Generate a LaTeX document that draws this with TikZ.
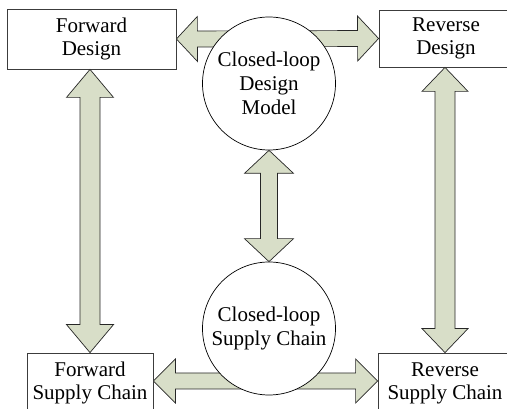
\documentclass[tikz,border=0pt]{standalone}
\usepackage{fontspec}
\setmainfont{Liberation Serif}
\usetikzlibrary{calc,backgrounds}
\definecolor{arrowfill}{RGB}{216,222,200}
\definecolor{boxline}{RGB}{60,60,60}
% #1 start, #2 end, #3 shaft half width, #4 head half width, #5 head length
\newcommand{\fatdarrow}[5]{%
  \path (#1) coordinate (fA) (#2) coordinate (fB);
  \path ($(fA)!#5!(fB)$) coordinate (fA2) ($(fB)!#5!(fA)$) coordinate (fB2);
  \draw[fatarrow] (fA) -- ($(fA2)!#4!90:(fA)$) -- ($(fA2)!#3!90:(fA)$)
    -- ($(fB2)!#3!-90:(fB)$) -- ($(fB2)!#4!-90:(fB)$) -- (fB)
    -- ($(fB2)!#4!90:(fB)$) -- ($(fB2)!#3!90:(fB)$)
    -- ($(fA2)!#3!-90:(fA)$) -- ($(fA2)!#4!-90:(fA)$) -- cycle;}
\begin{document}
\begin{tikzpicture}[x=1pt,y=-1pt,
  boxnode/.style={draw=boxline, line width=0.8pt, fill=white, align=center,
    font=\fontsize{21}{23}\selectfont, inner sep=0pt},
  circnode/.style={draw=black, line width=0.7pt, fill=white, circle,
    minimum size=133pt, inner sep=0pt, align=center,
    font=\fontsize{21}{24}\selectfont},
  fatarrow/.style={draw=black!85, line width=0.7pt, fill=arrowfill, line join=miter}]
\useasboundingbox (0,0) rectangle (507,409);
\clip (0,0) rectangle (507,409);

\node[boxnode, minimum width=169pt, minimum height=60pt] (fd) at (91.5,39) {Forward\\Design};
\node[boxnode, minimum width=134pt, minimum height=57pt] (rd) at (446,38.5) {Reverse\\Design};
\node[boxnode, minimum width=126pt, minimum height=60pt] (fsc) at (90,383) {Forward\\Supply Chain};
\node[boxnode, minimum width=134pt, minimum height=60pt] (rsc) at (445,383) {Reverse\\Supply Chain};

\node[circnode] (c1) at (269,83.5) {Closed-loop\\Design\\Model};
\node[circnode] (c2) at (269,328.5) {Closed-loop\\Supply Chain};

\begin{scope}[on background layer]
  \fatdarrow{fd.east}{rd.west}{8pt}{22.5pt}{21pt}
  \fatdarrow{[yshift=2pt]fsc.east}{[yshift=2pt]rsc.west}{8pt}{22pt}{22pt}
\end{scope}
\fatdarrow{fsc.north |- fd.south}{fsc.north}{10pt}{23.5pt}{28pt}
\fatdarrow{rsc.north |- rd.south}{rsc.north}{10pt}{23pt}{24pt}
\fatdarrow{c1.south}{c2.north}{8.5pt}{24.5pt}{23pt}
\end{tikzpicture}
\end{document}
